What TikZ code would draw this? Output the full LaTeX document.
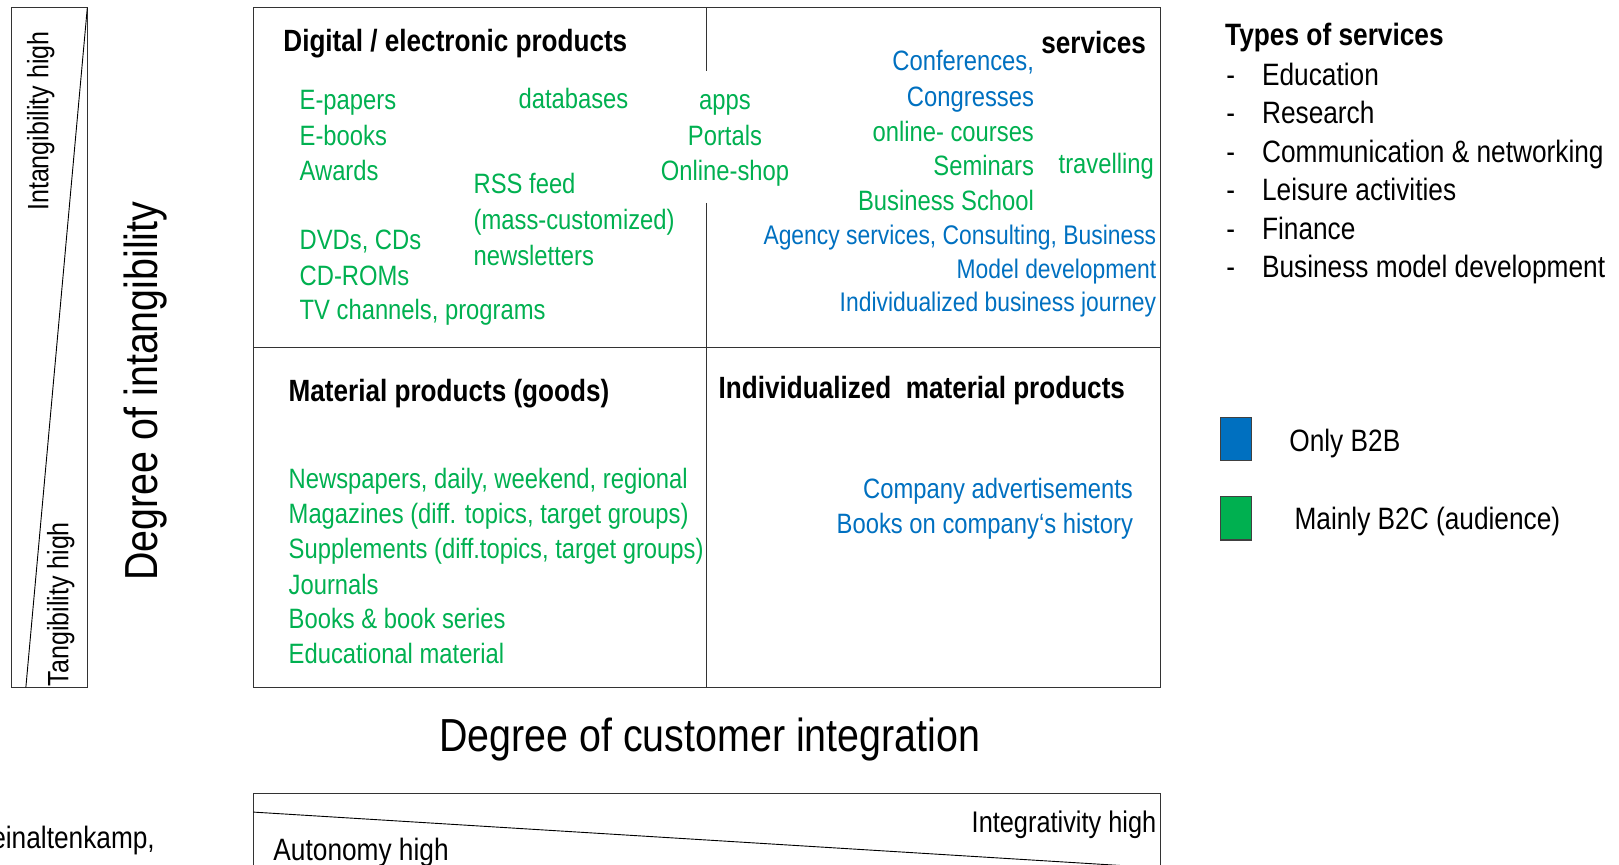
\documentclass[tikz,border=0pt]{standalone}
\usepackage{fontspec}
\setmainfont[FakeStretch=0.85]{Liberation Sans}
\definecolor{bgreen}{HTML}{00B050}
\definecolor{bblue}{HTML}{0070C0}

\begin{document}
\begin{tikzpicture}[x=0.02cm, y=-0.02cm]
\tikzset{
  boxline/.style={line width=0.7pt, draw=black!80},
  grn/.style={text=bgreen, inner sep=0pt, font=\fontsize{15.4}{18}\selectfont},
  blu/.style={text=bblue, inner sep=0pt, font=\fontsize{15.4}{18}\selectfont},
  head/.style={inner sep=0pt, font=\fontsize{16.9}{20}\selectfont\bfseries},
  sidetext/.style={inner sep=0pt, font=\fontsize{17}{20}\selectfont},
  pole/.style={inner sep=0pt, font=\fontsize{16.2}{19}\selectfont},
  axistitle/.style={inner sep=0pt, font=\fontsize{25.5}{30}\selectfont}
}
\useasboundingbox (0,0) rectangle (1565,836);
\clip (0,0) rectangle (1565,836);

\draw[boxline] (11.3,7.5) rectangle (84.4,664.4);
\draw[line width=0.5pt] (84.4,7.5) -- (25,664.4);
\node[pole, rotate=90] (inthigh) at (39.5,117) {Intangibility high};
\node[pole, rotate=90] (tanhigh) at (58.8,584) {Tangibility high};
\node[axistitle, rotate=90] (intangible) at (141,378) {Degree of intangibility};

\draw[boxline] (245,7) rectangle (1122,664.5);
\draw[boxline] (245,336) -- (1122,336);
\draw[boxline] (683,7) -- (683,69);
\draw[boxline] (683,196) -- (683,664.5);

\node[head, anchor=base west] (digital) at (273.6,50) {Digital / electronic products};
\node[head, anchor=base east] (services) at (1108,51.6) {services};
\node[head, anchor=base west] (material) at (278.7,388.3) {Material products (goods)};
\node[head, anchor=base west] (indiv) at (694.4,385.1) {Individualized\ \ material products};

\node[grn, anchor=base west] (epapers) at (289.3,106.3) {E-papers};
\node[grn, anchor=base west] (ebooks) at (289.3,140.2) {E-books};
\node[grn, anchor=base west] (awards) at (289.3,174) {Awards};
\node[grn, anchor=base west] (dvds) at (289.3,241) {DVDs, CDs};
\node[grn, anchor=base west] (cdroms) at (289.3,275.5) {CD-ROMs};
\node[grn, anchor=base west] (tv) at (289.3,309.3) {TV channels, programs};
\node[grn, anchor=base west] (databases) at (500.9,104.7) {databases};
\node[grn, anchor=base west] (rss) at (457.5,187.5) {RSS feed};
\node[grn, anchor=base west] (masscust) at (457.5,222) {(mass-customized)};
\node[grn, anchor=base west] (newsletters) at (457.5,256.2) {newsletters};
\node[grn, anchor=base] (apps) at (700.8,105.7) {apps};
\node[grn, anchor=base] (portals) at (700.8,140.2) {Portals};
\node[grn, anchor=base] (shop) at (700.8,174) {Online-shop};

\node[blu, anchor=base east] (conferences) at (999.8,67.7) {Conferences,};
\node[blu, anchor=base east] (congresses) at (999.8,102.5) {Congresses};
\node[grn, anchor=base east] (courses) at (999.8,137) {online- courses};
\node[grn, anchor=base east] (seminars) at (999.8,170.1) {Seminars};
\node[grn, anchor=base east] (school) at (999.8,203.7) {Business School};
\node[grn, anchor=base west] (travelling) at (1023,167.5) {travelling};
\node[blu, anchor=base east, font=\fontsize{14.8}{18}\selectfont] (agency) at (1118,236.8) {Agency services, Consulting, Business};
\node[blu, anchor=base east, font=\fontsize{14.8}{18}\selectfont] (modeldev) at (1118,269) {Model development};
\node[blu, anchor=base east, font=\fontsize{14.8}{18}\selectfont] (journey) at (1118,301.3) {Individualized business journey};

\node[grn, anchor=base west] (newspapers) at (278.7,472) {Newspapers, daily, weekend, regional};
\node[grn, anchor=base west] (magazines) at (278.7,505.9) {Magazines (diff. topics, target groups)};
\node[grn, anchor=base west] (supplements) at (278.7,539.7) {Supplements (diff.topics, target groups)};
\node[grn, anchor=base west] (journals) at (278.7,574.2) {Journals};
\node[grn, anchor=base west] (books) at (278.7,607.4) {Books \& book series};
\node[grn, anchor=base west] (educmat) at (278.7,641.2) {Educational material};

\node[blu, anchor=base east] (adverts) at (1095.5,481.7) {Company advertisements};
\node[blu, anchor=base east] (history) at (1095.5,515.5) {Books on company‘s history};

\node[head, anchor=base west, font=\fontsize{17}{20}\selectfont\bfseries] (types) at (1184,44) {Types of services};
\node[sidetext, anchor=base west] (d1) at (1185,82.2) {-};
\node[sidetext, anchor=base west] (education) at (1219.6,82.2) {Education};
\node[sidetext, anchor=base west] (d2) at (1185,119.5) {-};
\node[sidetext, anchor=base west] (research) at (1219.6,119.5) {Research};
\node[sidetext, anchor=base west] (d3) at (1185,156.8) {-};
\node[sidetext, anchor=base west] (communication) at (1219.6,156.8) {Communication \& networking};
\node[sidetext, anchor=base west] (d4) at (1185,194) {-};
\node[sidetext, anchor=base west] (leisure) at (1219.6,194) {Leisure activities};
\node[sidetext, anchor=base west] (d5) at (1185,231.3) {-};
\node[sidetext, anchor=base west] (finance) at (1219.6,231.3) {Finance};
\node[sidetext, anchor=base west] (d6) at (1185,268.6) {-};
\node[sidetext, anchor=base west] (bizmodel) at (1219.6,268.6) {Business model development};

\filldraw[fill=bblue, draw=black!75, line width=0.6pt] (1180,404) rectangle (1210,445);
\node[sidetext, anchor=base west] (onlyb2b) at (1246,436.6) {Only B2B};
\filldraw[fill=bgreen, draw=black!75, line width=0.6pt] (1180,480) rectangle (1210,522);
\node[sidetext, anchor=base west] (mainlyb2c) at (1251,512.3) {Mainly B2C (audience)};

\node[axistitle] (custint) at (686,715) {Degree of customer integration};
\draw[boxline] (245,900) -- (245,767) -- (1122,767) -- (1122,900);
\draw[line width=0.5pt] (245,785) -- (1122,839);
\node[sidetext, anchor=base west] (autonomy) at (264,832) {Autonomy high};
\node[pole, anchor=base east, font=\fontsize{16.4}{19}\selectfont] (integrativity) at (1118,805) {Integrativity high};
\node[sidetext, anchor=base east] (source) at (150,820) {einaltenkamp,};
\end{tikzpicture}
\end{document}
